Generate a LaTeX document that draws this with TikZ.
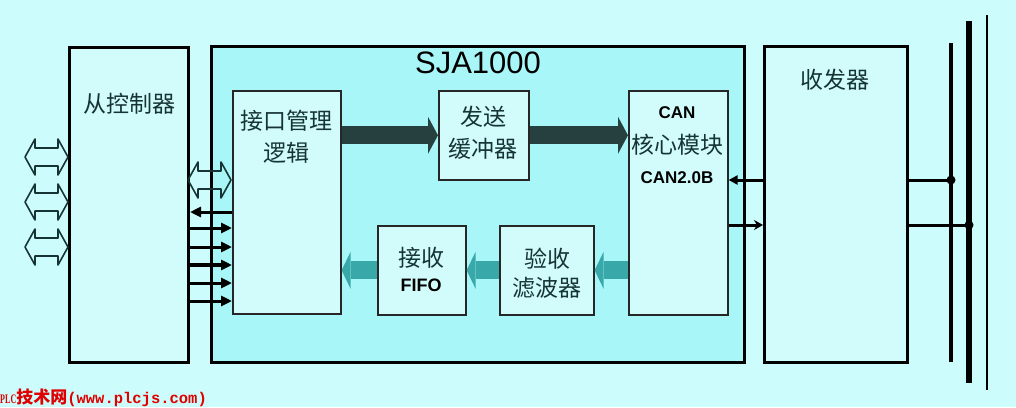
\documentclass[tikz,border=0pt]{standalone}
\usepackage{fontspec}
\setmainfont{Liberation Sans}
\newfontfamily\cjk{Noto Sans CJK SC}
\newfontfamily\wmmono{Liberation Mono}
\newfontfamily\wmserif[FakeStretch=0.62]{Liberation Serif}
\usepackage{xcolor}
\usetikzlibrary{arrows.meta,positioning}
\definecolor{bgcyan}{HTML}{CCFCFC}
\definecolor{chipcyan}{HTML}{A8F6F8}
\definecolor{boxcyan}{HTML}{D2FCFC}
\definecolor{darkslate}{HTML}{263F3F}
\definecolor{tealarrow}{HTML}{38A8A8}
\definecolor{inkteal}{HTML}{173434}
\definecolor{wmred}{HTML}{E00000}

\tikzset{
	dblarrow/.pic={
		\draw[draw=inkteal, line width=1.6pt, line join=round]
			(-21.5,0) -- (-11.5,-18) -- (-11.5,-9) -- (11.5,-9) -- (11.5,-18) -- (21.5,0)
			-- (11.5,18) -- (11.5,9) -- (-11.5,9) -- (-11.5,18) -- cycle;
	}
}

\begin{document}
\begin{tikzpicture}[
		x=1pt, y=-1pt,
		outerbox/.style={draw=black, line width=3pt, fill=boxcyan, anchor=north west, inner sep=0pt},
		innerbox/.style={draw=black!85, line width=1.6pt, fill=boxcyan, anchor=north west, inner sep=0pt},
		cntext/.style={font=\cjk\fontsize{23}{32}\selectfont, text=inkteal, align=center, inner sep=0pt},
		entext/.style={font=\bfseries\fontsize{17}{32}\selectfont, text=black, align=center, inner sep=0pt},
		txarrow/.style={draw=darkslate, line width=18pt, -{Triangle[length=10pt,width=37pt,line width=0pt]}},
		rxarrow/.style={draw=tealarrow, line width=18pt, -{Triangle[length=9pt,width=37pt,line width=0pt]}},
		sig/.style={draw=black, line width=3pt, -{Triangle[length=11pt,width=10pt]}},
		bus/.style={draw=black}
		]
	
		\useasboundingbox[fill=bgcyan] (0,0) rectangle (1016,407);
	
		% --- boites principales ---
		\node[outerbox, minimum width=119pt, minimum height=315pt] (ctrl) at (68,46) {};
		\node[outerbox, fill=chipcyan, minimum width=533pt, minimum height=316pt] (sja) at (210,45) {};
		\node[outerbox, minimum width=143pt, minimum height=316pt] (xcvr) at (763,45) {};
	
		% --- blocs internes du SJA1000 ---
		\node[innerbox, minimum width=108pt, minimum height=223pt] (ifl) at (232,90) {};
		\node[innerbox, minimum width=90pt, minimum height=89pt] (tx) at (438,90) {};
		\node[innerbox, minimum width=99pt, minimum height=224pt] (can) at (628,90) {};
		\node[innerbox, minimum width=88pt, minimum height=89pt] (fifo) at (377,225) {};
		\node[innerbox, minimum width=94pt, minimum height=89pt] (flt) at (499,225) {};
	
		% --- textes ---
		\node[font=\fontsize{31}{36}\selectfont, inner sep=0pt] (sjatxt) at (478,63) {SJA1000};
		\node[cntext] (ctrltxt) at (129,104) {从控制器};
		\node[cntext] (xcvrtxt) at (835,80) {收发器};
		\node[cntext] (ifltxt) at (286,137) {接口管理\\逻辑};
		\node[cntext] (txtxt) at (483,133) {发送\\缓冲器};
		\node[entext] (cantop) at (677,113) {CAN};
		\node[cntext] (canmid) at (677,145) {核心模块};
		\node[entext] (canbot) at (677,178) {CAN2.0B};
		\node[cntext] (fifotop) at (421,258) {接收};
		\node[entext, font=\bfseries\fontsize{18}{32}\selectfont] (fifobot) at (421,285) {FIFO};
		\node[cntext, font=\cjk\fontsize{23}{29}\selectfont] (flttxt) at (547,273) {验收\\滤波器};
	
		% --- flux de donnees ---
		\draw[txarrow] (ifl.east |- tx.west) -- (tx.west);
		\draw[txarrow] (tx.east) -- (tx.east -| can.west);
		\draw[rxarrow] (can.west |- flt.east) -- (flt.east);
		\draw[rxarrow] (flt.west) -- (fifo.east);
		\draw[rxarrow] (fifo.west) -- (fifo.west -| ifl.east);
	
		% --- bus vers le controleur hote ---
		\foreach \y in {157,202,247}
			\pic at (46.5,\y) {dblarrow};
		\pic at (209.5,180) {dblarrow};
		\draw[sig] (ifl.west |- 0,212) -- (ctrl.east |- 0,212);
		\foreach \y/\w in {228/3,247/3,265/4,283/3,301/3}
			\draw[sig, line width=\w pt] (ctrl.east |- 0,\y) -- (ifl.west |- 0,\y);
	
		% --- liaison avec l'emetteur-recepteur ---
		\draw[sig, -{Triangle[length=9pt,width=9pt]}] (xcvr.west |- 0,180) -- (can.east |- 0,180);
		\draw[sig, -{Stealth[length=9pt,width=10pt]}] (can.east |- 0,225) -- (xcvr.west |- 0,225);
	
		% --- lignes du bus CAN ---
		\coordinate (b1t) at (951,43);  \coordinate (b1b) at (951,362);
		\coordinate (b2t) at (969,21);  \coordinate (b2b) at (969,383);
		\coordinate (b3t) at (987,15);  \coordinate (b3b) at (987,390);
		\draw[bus, line width=4pt] (b1t) -- (b1b);
		\draw[bus, line width=6pt] (b2t) -- (b2b);
		\draw[bus, line width=2pt] (b3t) -- (b3b);
		\coordinate (j1) at (b1t |- 0,180);
		\coordinate (j2) at (b2t |- 0,225);
		\draw[bus, line width=3pt] (xcvr.east |- j1) -- (j1);
		\draw[bus, line width=3pt] (xcvr.east |- j2) -- (j2);
		\fill (j1) circle (4.5pt);
		\fill (j2) circle (4.5pt);
	
		% --- filigrane ---
		\node[anchor=west, inner sep=0pt, text=wmred] (wm) at (0,398)
			{{\wmserif\bfseries\fontsize{13}{14}\selectfont PLC}{\cjk\bfseries\fontsize{17}{18}\selectfont 技术网}{\wmmono\bfseries\fontsize{15.5}{18}\selectfont (www.plcjs.com)}};
	
	\end{tikzpicture}
\end{document}
